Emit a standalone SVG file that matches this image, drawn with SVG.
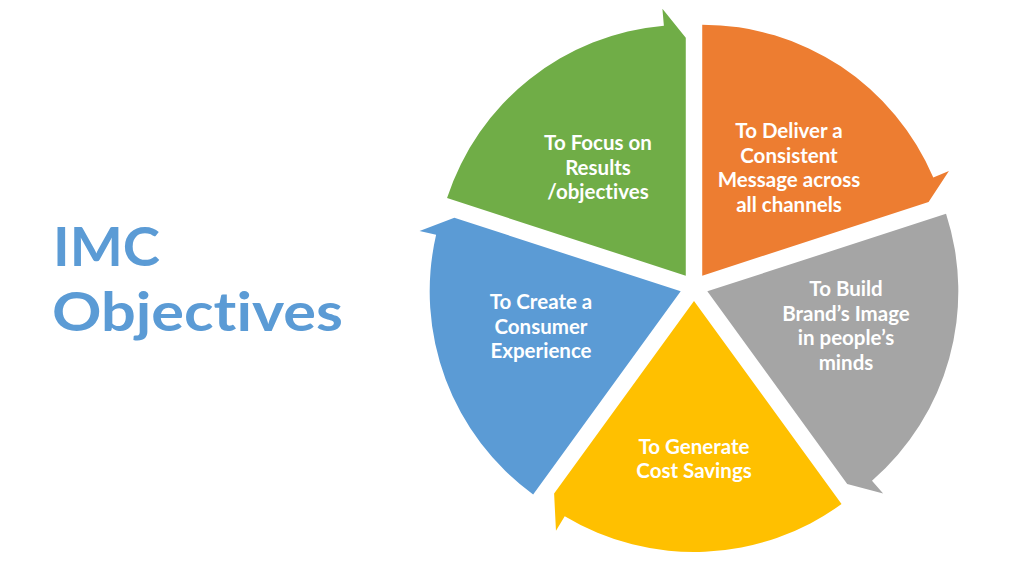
<svg xmlns="http://www.w3.org/2000/svg" width="1024" height="576" viewBox="0 0 1024 576">
<style>
.title{font-family:Lato,"Liberation Sans",sans-serif;font-weight:700;font-size:54px;fill:#5B9BD5;font-variant-ligatures:none}
.lbl{font-family:Lato,"Liberation Sans",sans-serif;font-weight:700;font-size:20.5px;fill:#FFFFFF;text-anchor:middle;font-variant-ligatures:none}
</style>
<rect width="1024" height="576" fill="#FFFFFF"/>
<g id="title">
<text class="title" x="53" y="266" textLength="107" lengthAdjust="spacingAndGlyphs">IMC</text>
<text class="title" x="52" y="331" textLength="291" lengthAdjust="spacingAndGlyphs">Objectives</text>
</g>
<g id="connectors"></g>
<g id="node-focus">
<path d="M685.77,275.67 L447.05,198.11 A251,251 0 0 1 663.89,25.63 L662.41,8.69 L685.77,37.67 Z" fill="#70AD47"/>
<text class="lbl"><tspan x="598" y="150">To Focus on</tspan><tspan x="598" y="175">Results</tspan><tspan x="598" y="199">/objectives</tspan></text>
</g>
<g id="node-deliver">
<path d="M702.23,275.67 L702.23,24.67 A251,251 0 0 1 933.28,177.60 L948.92,170.95 L928.58,202.12 Z" fill="#ED7D31"/>
<text class="lbl"><tspan x="789" y="138">To Deliver a</tspan><tspan x="789" y="163">Consistent</tspan><tspan x="789" y="187">Message across</tspan><tspan x="789" y="212">all channels</tspan></text>
</g>
<g id="node-build">
<path d="M707.32,291.33 L946.04,213.77 A251,251 0 0 1 871.99,480.76 L883.14,493.59 L847.21,483.88 Z" fill="#A5A5A5"/>
<text class="lbl"><tspan x="846" y="296">To Build</tspan><tspan x="846" y="321">Brand’s Image</tspan><tspan x="846" y="345">in people’s</tspan><tspan x="846" y="370">minds</tspan></text>
</g>
<g id="node-generate">
<path d="M694,301 L841.54,504.06 A251,251 0 0 1 564.73,516.15 L555.97,530.72 L554.11,493.55 Z" fill="#FFC000"/>
<text class="lbl"><tspan x="694" y="454">To Generate</tspan><tspan x="694" y="478">Cost Savings</tspan></text>
</g>
<g id="node-create">
<path d="M680.69,291.33 L533.15,494.39 A251,251 0 0 1 436.12,234.87 L419.56,231.04 L454.34,217.78 Z" fill="#5B9BD5"/>
<text class="lbl"><tspan x="541" y="309">To Create a</tspan><tspan x="541" y="334">Consumer</tspan><tspan x="541" y="358">Experience</tspan></text>
</g>
</svg>
